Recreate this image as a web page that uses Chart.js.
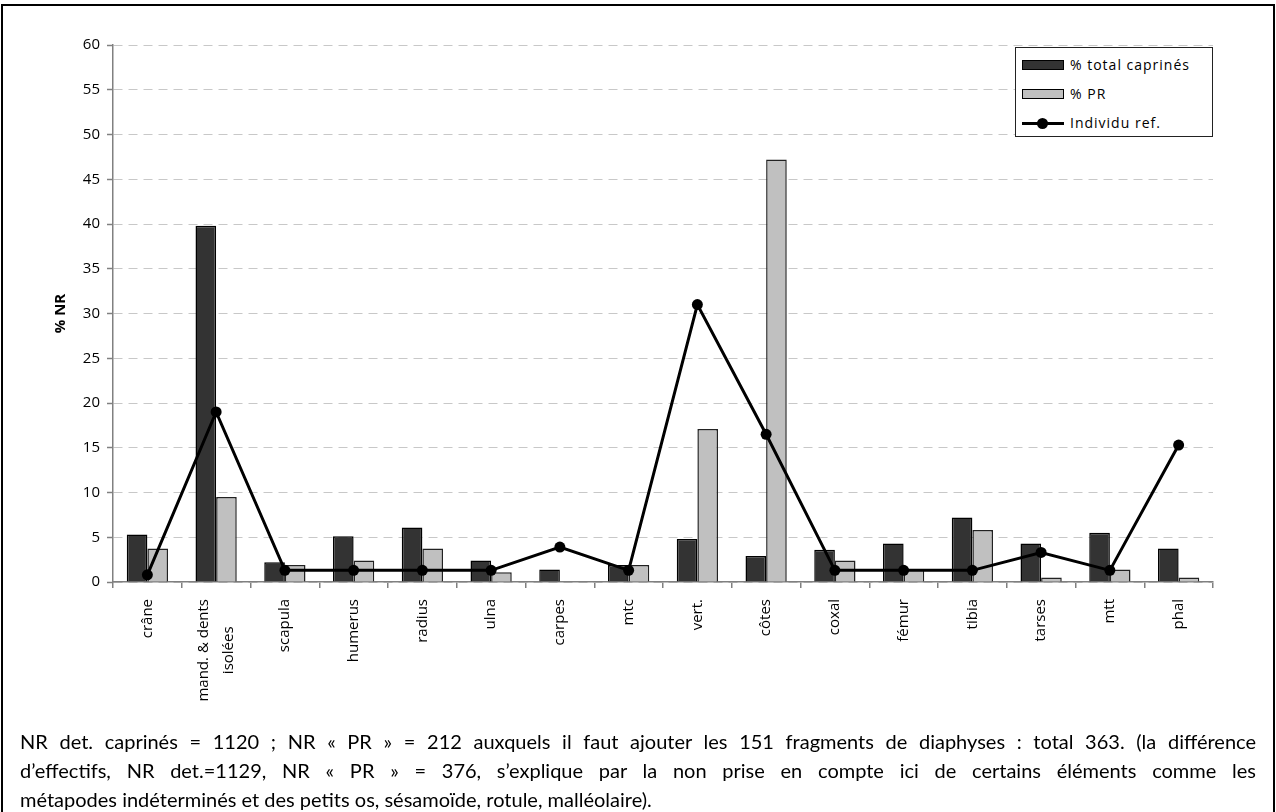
<!DOCTYPE html>
<html>
<head>
<meta charset="utf-8">
<script src="https://cdn.jsdelivr.net/npm/chart.js@4/dist/chart.umd.min.js"></script>
<style>
  body { margin: 0; background: #fff; }
  #wrap { position: relative; width: 1276px; height: 812px; overflow: hidden; }
  #frame { position: absolute; left: 1px; top: 4px; width: 1270px; height: 820px; border: 2px solid #000; }
  #chart { position: absolute; left: 0; top: 0; }
  #legend { position: absolute; left: 1015px; top: 47px; width: 196px; height: 88px;
            border: 1px solid #222; background: #fff;
            font: 14px "Open Sans", sans-serif; letter-spacing: 1px; color: #000; }
  .row { position: absolute; left: 0; width: 100%; height: 20px; }
  .sw { position: absolute; left: 6px; top: 5px; width: 40px; height: 8px; border: 1px solid #000; }
  .lbl { position: absolute; left: 54px; top: 0; line-height: 20px; }
  .ln { position: absolute; left: 6px; top: 9px; width: 42px; height: 3px; background: #000; }
  .dot { position: absolute; left: 21px; top: 5px; width: 11px; height: 11px; border-radius: 50%; background: #000; }
  #note { position: absolute; left: 20px; top: 727px; width: 1236px;
          font: 20px Lato, sans-serif; line-height: 29px; color: #000; }
  #note div { white-space: nowrap; }
  #note .j { text-align: justify; text-align-last: justify; }
</style>
</head>
<body>
<div id="wrap">
  <div id="frame"></div>
  <canvas id="chart" width="1276" height="730"></canvas>
  <div id="legend">
    <div class="row" style="top:7px"><div class="sw" style="background:#333333"></div><div class="lbl">% total caprinés</div></div>
    <div class="row" style="top:36px"><div class="sw" style="background:#c0c0c0"></div><div class="lbl">% PR</div></div>
    <div class="row" style="top:65px"><div class="ln"></div><div class="dot"></div><div class="lbl">Individu ref.</div></div>
  </div>
  <div id="note">
    <div class="j">NR det. caprinés = 1120 ; NR « PR » = 212 auxquels il faut ajouter les 151 fragments de diaphyses : total 363. (la différence</div>
    <div class="j">d’effectifs, NR det.=1129, NR « PR » = 376, s’explique par la non prise en compte ici de certains éléments comme les</div>
    <div>métapodes indéterminés et des petits os, sésamoïde, rotule, malléolaire).</div>
  </div>
</div>
<script>
// skeletal elements (x axis)
const categories = ["crâne", ["mand. & dents", "isolées"], "scapula", "humerus", "radius", "ulna", "carpes", "mtc",
    "vert.", "côtes", "coxal", "fémur", "tibia", "tarses", "mtt", "phal"];

// % NR values
const totalCaprines = [5.3, 39.8, 2.2, 5.1, 6.1, 2.4, 1.4, 1.9, 4.8, 2.9, 3.6, 4.3, 7.2, 4.3, 5.5, 3.75];
const pourcentPR = [3.75, 9.5, 1.9, 2.4, 3.75, 1.1, 0, 1.9, 17.1, 47.2, 2.4, 1.4, 5.8, 0.5, 1.4, 0.5];
const individuRef = [0.8, 19.0, 1.3, 1.3, 1.3, 1.3, 3.9, 1.3, 31.0, 16.5, 1.3, 1.3, 1.3, 3.3, 1.3, 15.3];

const yTicks = { min: 0, max: 60, step: 5 };

// shrink the note a little if its first line would not fit
const note = document.getElementById("note");
let fs = 20;
while (fs > 14) {
    const l1 = note.children[0];
    l1.style.textAlignLast = "left";
    l1.style.display = "inline-block";
    const w = l1.getBoundingClientRect().width;
    l1.style.display = "";
    l1.style.textAlignLast = "";
    if (w <= 1236) break;
    fs -= 0.5;
    note.style.fontSize = fs + "px";
}

// rotated category labels, multi-line ones centred as a block
const xLabels = {
    id: "xLabels",
    afterDraw(chart) {
        const ctx = chart.ctx;
        const xs = chart.scales.x;
        const top = chart.chartArea.bottom + 17;
        const lh = 25;
        ctx.save();
        ctx.font = '15px "Open Sans", sans-serif';
        ctx.fillStyle = "#000";
        ctx.textBaseline = "middle";
        categories.forEach((c, i) => {
            const lines = Array.isArray(c) ? c : [c];
            const widths = lines.map(l => ctx.measureText(l).width);
            const maxW = Math.max(...widths);
            const x = xs.getPixelForValue(i);
            ctx.save();
            ctx.translate(x, top);
            ctx.rotate(-Math.PI / 2);
            ctx.textAlign = "center";
            lines.forEach((l, k) => {
                ctx.fillText(l, -maxW / 2, (k - (lines.length - 1) / 2) * lh);
            });
            ctx.restore();
        });
        ctx.restore();
    }
};

new Chart(document.getElementById("chart"), {
    type: "bar",
    data: {
        labels: categories,
        datasets: [{
            type: "line",
            label: "Individu ref.",
            data: individuRef,
            borderColor: "#000",
            backgroundColor: "#000",
            borderWidth: 3,
            pointRadius: 5.5,
            pointBackgroundColor: "#000",
            pointBorderWidth: 0,
            tension: 0,
            order: 0
        }, {
            label: "% total caprinés",
            data: totalCaprines,
            backgroundColor: "#333333",
            borderColor: "#000",
            borderWidth: 1.5,
            order: 1
        }, {
            label: "% PR",
            data: pourcentPR,
            backgroundColor: "#c0c0c0",
            borderColor: "#222",
            borderWidth: 1.5,
            order: 1
        }]
    },
    options: {
        responsive: false,
        animation: false,
        devicePixelRatio: 1,
        categoryPercentage: 0.6,
        barPercentage: 1.0,
        layout: { padding: { top: 45, left: 48, right: 63, bottom: 0 } },
        scales: {
            x: {
                afterFit: s => { s.height = 148; },
                ticks: { display: false },
                grid: { display: true, drawOnChartArea: false, offset: true, tickLength: 6, color: "#808080", tickColor: "#808080", lineWidth: 1.5 },
                border: { color: "#808080", width: 1.5 }
            },
            y: {
                min: yTicks.min,
                max: yTicks.max,
                afterFit: s => { s.width = 65; },
                ticks: { stepSize: yTicks.step, padding: 7, color: "#000", font: { family: "Open Sans", size: 15 } },
                grid: { color: "#c8c8c8", lineWidth: 1, tickLength: 6, tickColor: "#808080", tickWidth: 1.5 },
                border: { color: "#808080", width: 1.5, dash: [9, 6] },
                title: { display: true, text: "% NR", color: "#000", padding: { top: 4, bottom: 0 },
                         font: { family: "Open Sans", size: 15, weight: "bold" } }
            }
        },
        plugins: {
            legend: { display: false },
            tooltip: { enabled: false }
        }
    },
    plugins: [xLabels]
});
</script>
</body>
</html>
